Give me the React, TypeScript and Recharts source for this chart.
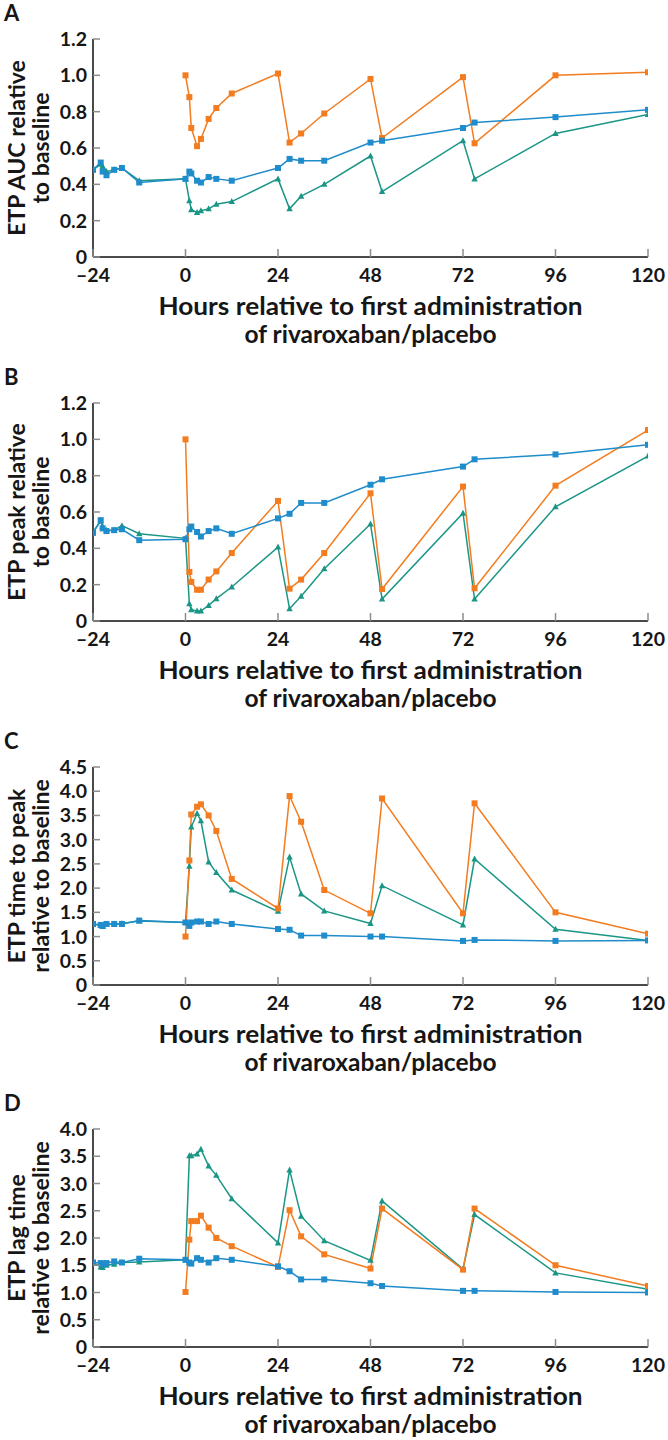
import React from 'react';
import { LineChart, Line, XAxis, YAxis } from 'recharts';

// Sampling times (hours relative to first administration)
const preTimes = [-24, -22, -21.5, -20.5, -18.5, -16.5, -12];
const postTimes = [0, 1, 1.5, 3, 4, 6, 8, 12, 24, 27, 30, 36, 48, 51, 72, 75, 96, 120];
const xTicks = [-24, 0, 24, 48, 72, 96, 120];

// Panel A: ETP AUC relative to baseline
const aucBluePre = [0.48, 0.52, 0.47, 0.45, 0.48, 0.49, 0.41];
const aucBluePost = [0.43, 0.47, 0.46, 0.42, 0.41, 0.44, 0.43, 0.42, 0.49, 0.54, 0.53, 0.53, 0.63, 0.64, 0.71, 0.74, 0.77, 0.81];
const aucGreenPre = [0.48, 0.51, 0.5, 0.47, 0.48, 0.49, 0.42];
const aucGreenPost = [0.43, 0.31, 0.26, 0.245, 0.255, 0.265, 0.29, 0.305, 0.43, 0.265, 0.335, 0.4, 0.556, 0.36, 0.64, 0.43, 0.68, 0.785];
const aucOrange = [1.0, 0.88, 0.71, 0.61, 0.65, 0.76, 0.82, 0.9, 1.01, 0.63, 0.68, 0.79, 0.98, 0.655, 0.99, 0.626, 1.0, 1.017];

// Panel B: ETP peak relative to baseline
const peakBluePre = [0.485, 0.555, 0.51, 0.495, 0.5, 0.505, 0.445];
const peakBluePost = [0.45, 0.505, 0.52, 0.49, 0.465, 0.495, 0.51, 0.48, 0.565, 0.59, 0.65, 0.65, 0.75, 0.78, 0.85, 0.89, 0.917, 0.97];
const peakGreenPre = [0.49, 0.55, 0.52, 0.5, 0.5, 0.525, 0.48];
const peakGreenPost = [0.455, 0.095, 0.062, 0.055, 0.055, 0.086, 0.123, 0.187, 0.407, 0.068, 0.136, 0.288, 0.534, 0.121, 0.593, 0.121, 0.629, 0.908];
const peakOrange = [1.0, 0.27, 0.215, 0.172, 0.172, 0.228, 0.273, 0.374, 0.661, 0.178, 0.228, 0.374, 0.703, 0.176, 0.74, 0.18, 0.745, 1.051];

// Panel C: ETP time to peak relative to baseline
const ttpBluePre = [1.26, 1.24, 1.22, 1.26, 1.26, 1.26, 1.33];
const ttpBluePost = [1.29, 1.22, 1.29, 1.31, 1.31, 1.26, 1.31, 1.26, 1.155, 1.14, 1.02, 1.02, 1.0, 1.0, 0.91, 0.93, 0.91, 0.92];
const ttpGreenPre = [1.26, 1.23, 1.21, 1.25, 1.26, 1.27, 1.32];
const ttpGreenPost = [1.29, 2.45, 3.26, 3.54, 3.39, 2.54, 2.32, 1.96, 1.52, 2.64, 1.88, 1.53, 1.27, 2.05, 1.24, 2.6, 1.15, 0.92];
const ttpOrange = [1.0, 2.57, 3.52, 3.68, 3.73, 3.5, 3.18, 2.19, 1.58, 3.9, 3.37, 1.96, 1.48, 3.85, 1.48, 3.75, 1.5, 1.06];

// Panel D: ETP lag time relative to baseline
const lagBluePre = [1.55, 1.54, 1.52, 1.54, 1.57, 1.55, 1.62];
const lagBluePost = [1.6, 1.55, 1.53, 1.63, 1.6, 1.55, 1.63, 1.6, 1.48, 1.39, 1.24, 1.24, 1.17, 1.12, 1.03, 1.03, 1.01, 1.0];
const lagGreenPre = [1.55, 1.47, 1.46, 1.5, 1.52, 1.55, 1.56];
const lagGreenPost = [1.6, 3.51, 3.51, 3.54, 3.63, 3.32, 3.15, 2.72, 1.91, 3.25, 2.4, 1.95, 1.59, 2.68, 1.43, 2.43, 1.36, 1.06];
const lagOrange = [1.01, 1.97, 2.31, 2.31, 2.41, 2.19, 2.0, 1.85, 1.47, 2.51, 2.03, 1.7, 1.44, 2.54, 1.42, 2.54, 1.5, 1.12];

const ticks12 = [0, 0.2, 0.4, 0.6, 0.8, 1.0, 1.2];
const ticks45 = [0, 0.5, 1, 1.5, 2, 2.5, 3, 3.5, 4, 4.5];
const ticks40 = [0, 0.5, 1, 1.5, 2, 2.5, 3, 3.5, 4];

const BLUE = '#1f8ccb';
const GREEN = '#1b9686';
const ORANGE = '#f27c1f';
const AXIS = '#4a4a4a';
const TICK = '#8c8c8c';
const TEXT = '#161616';
const FONT = "Lato, 'Open Sans', sans-serif";

const W = 668;
const H = 364;
const PLOT_TOP = 39;
const PLOT_BOTTOM = 257;
const PLOT_LEFT = 93;
const PLOT_RIGHT = 648;

type Pt = { t: number; v: number };
const zip = (times: number[], vals: number[]): Pt[] => times.map((t, i) => ({ t, v: vals[i] }));

const fmtY1 = (v: number) => (v === 0 ? '0' : v.toFixed(1));

const SquareDot = (color: string) => (p: any) => {
  const { cx, cy, index } = p;
  if (cx == null || cy == null) return <g key={index} />;
  return <rect key={index} x={cx - 3} y={cy - 3} width={6} height={6} fill={color} />;
};
const TriDot = (color: string) => (p: any) => {
  const { cx, cy, index } = p;
  if (cx == null || cy == null) return <g key={index} />;
  return (
    <polygon
      key={index}
      points={`${cx},${cy - 3.5} ${cx - 3.2},${cy + 2.5} ${cx + 3.2},${cy + 2.5}`}
      fill={color}
    />
  );
};

const YTick = (fmt: (v: number) => string) => (p: any) => {
  const { x, y, payload } = p;
  return (
    <g>
      <line x1={x} x2={x + 7} y1={y} y2={y} stroke={TICK} strokeWidth={1.5} />
      <text x={x - 6} y={y + 7} textAnchor="end" fontFamily={FONT} fontWeight={700} fontSize={19.5} fill={TEXT}>
        {fmt(payload.value)}
      </text>
    </g>
  );
};

const XTick = (p: any) => {
  const { x, y, payload } = p;
  const v = payload.value as number;
  const label = v < 0 ? '\u2013' + Math.abs(v) : String(v);
  return (
    <g>
      <line x1={x} x2={x} y1={y} y2={y - 8} stroke={TICK} strokeWidth={1.5} />
      <text x={x} y={y + 25} textAnchor="middle" fontFamily={FONT} fontWeight={700} fontSize={19.5} fill={TEXT}>
        {label}
      </text>
    </g>
  );
};

type PanelProps = {
  top: number;
  letter: string;
  yTitle: [string, string];
  yMax: number;
  yTicks: number[];
  fmt: (v: number) => string;
  bluePre: number[];
  bluePost: number[];
  greenPre: number[];
  greenPost: number[];
  orange: number[];
};

function Panel(props: PanelProps) {
  const blue = zip([...preTimes, ...postTimes], [...props.bluePre, ...props.bluePost]);
  const green = zip([...preTimes, ...postTimes], [...props.greenPre, ...props.greenPost]);
  const orange = zip(postTimes, props.orange);
  const cy = (PLOT_TOP + PLOT_BOTTOM) / 2;
  const cx = (PLOT_LEFT + PLOT_RIGHT) / 2;
  return (
    <div style={{ position: 'absolute', left: 0, top: props.top, width: W, height: H }}>
      <LineChart
        width={W}
        height={H}
        margin={{ top: PLOT_TOP, right: W - PLOT_RIGHT, bottom: H - PLOT_BOTTOM - 30, left: PLOT_LEFT - 40 }}
      >
        <XAxis
          type="number"
          dataKey="t"
          domain={[-24, 120]}
          ticks={xTicks}
          height={30}
          tickSize={0}
          tickMargin={0}
          tickLine={false}
          axisLine={{ stroke: AXIS, strokeWidth: 2 }}
          tick={XTick}
          interval={0}
          allowDataOverflow
        />
        <YAxis
          type="number"
          dataKey="v"
          domain={[0, props.yMax]}
          ticks={props.yTicks}
          width={40}
          tickSize={0}
          tickMargin={0}
          tickLine={false}
          axisLine={{ stroke: AXIS, strokeWidth: 2 }}
          tick={YTick(props.fmt)}
          interval={0}
          allowDataOverflow
        />
        <Line data={green} dataKey="v" type="linear" stroke={GREEN} strokeWidth={1.5} dot={TriDot(GREEN)} activeDot={false} isAnimationActive={false} />
        <Line data={orange} dataKey="v" type="linear" stroke={ORANGE} strokeWidth={1.5} dot={SquareDot(ORANGE)} activeDot={false} isAnimationActive={false} />
        <Line data={blue} dataKey="v" type="linear" stroke={BLUE} strokeWidth={1.5} dot={SquareDot(BLUE)} activeDot={false} isAnimationActive={false} />
      </LineChart>
      <svg
        width={W}
        height={H}
        style={{ position: 'absolute', left: 0, top: 0, pointerEvents: 'none' }}
        fontFamily={FONT}
        fontWeight={700}
        fill={TEXT}
      >
        <text x={4} y={21} fontSize={22}>{props.letter}</text>
        <text transform={`translate(25, ${cy}) rotate(-90)`} textAnchor="middle" fontSize={23}>
          {props.yTitle[0]}
        </text>
        <text transform={`translate(49, ${cy}) rotate(-90)`} textAnchor="middle" fontSize={23}>
          {props.yTitle[1]}
        </text>
        <text x={cx} y={PLOT_BOTTOM + 58} textAnchor="middle" fontSize={24} textLength={424} lengthAdjust="spacingAndGlyphs">
          Hours relative to first administration
        </text>
        <text x={cx} y={PLOT_BOTTOM + 86} textAnchor="middle" fontSize={24} textLength={252} lengthAdjust="spacingAndGlyphs">
          of rivaroxaban/placebo
        </text>
      </svg>
    </div>
  );
}

export default function App() {
  return (
    <div style={{ position: 'absolute', left: 0, top: 0, width: W, height: 1440, background: '#fff' }}>
      <Panel top={0} letter="A" yTitle={['ETP AUC relative', 'to baseline']} yMax={1.2} yTicks={ticks12} fmt={fmtY1}
        bluePre={aucBluePre} bluePost={aucBluePost} greenPre={aucGreenPre} greenPost={aucGreenPost} orange={aucOrange} />
      <Panel top={364} letter="B" yTitle={['ETP peak relative', 'to baseline']} yMax={1.2} yTicks={ticks12} fmt={fmtY1}
        bluePre={peakBluePre} bluePost={peakBluePost} greenPre={peakGreenPre} greenPost={peakGreenPost} orange={peakOrange} />
      <Panel top={728} letter="C" yTitle={['ETP time to peak', 'relative to baseline']} yMax={4.5} yTicks={ticks45} fmt={fmtY1}
        bluePre={ttpBluePre} bluePost={ttpBluePost} greenPre={ttpGreenPre} greenPost={ttpGreenPost} orange={ttpOrange} />
      <Panel top={1090} letter="D" yTitle={['ETP lag time', 'relative to baseline']} yMax={4.0} yTicks={ticks40} fmt={fmtY1}
        bluePre={lagBluePre} bluePost={lagBluePost} greenPre={lagGreenPre} greenPost={lagGreenPost} orange={lagOrange} />
    </div>
  );
}
